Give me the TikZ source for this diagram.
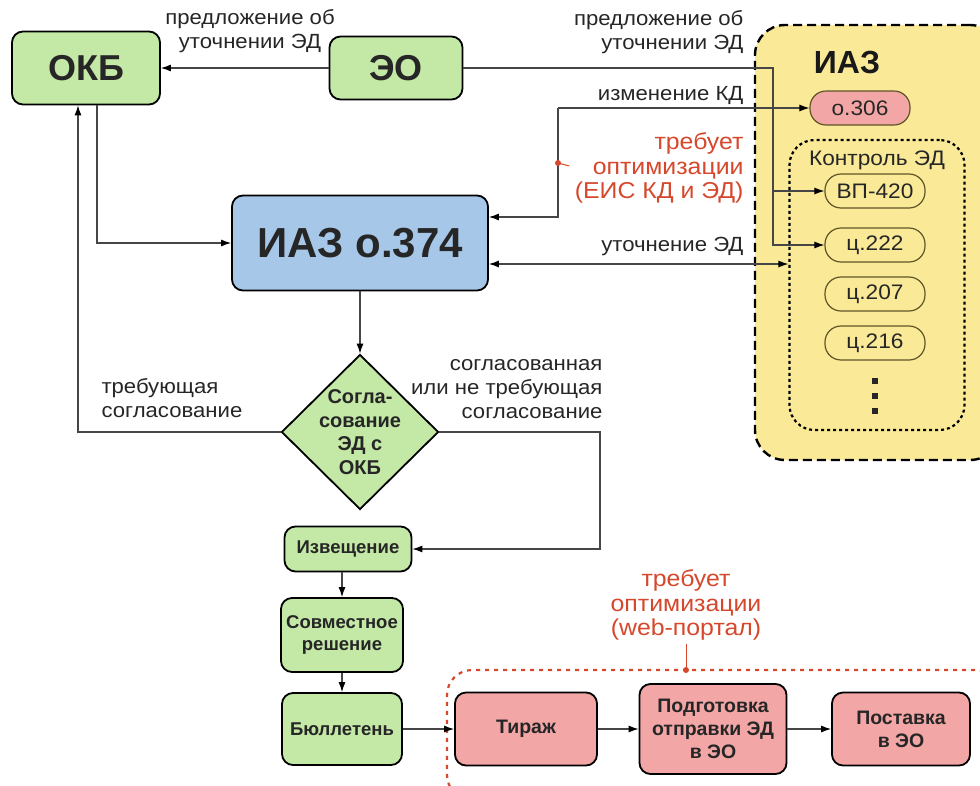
\documentclass[tikz,border=0pt]{standalone}
\usepackage{fontspec}
\setmainfont{Liberation Sans}
\newfontfamily\lblfont{Liberation Sans}[FakeStretch=1.08]
\usepackage{tikz}
\usetikzlibrary{arrows.meta,shapes.geometric,calc,positioning}

\definecolor{boxgreen}{RGB}{196,232,166}
\definecolor{boxblue}{RGB}{166,199,232}
\definecolor{boxpink}{RGB}{242,166,166}
\definecolor{boxyellow}{RGB}{250,234,152}
\definecolor{pillline}{RGB}{95,85,40}
\definecolor{linegray}{RGB}{70,70,70}
\definecolor{optred}{RGB}{214,72,44}

\tikzset{
  base/.style={draw=black, line width=1.8pt, rounded corners=11pt, align=center, inner sep=1pt,
    font=\fontsize{18.5}{22}\selectfont\bfseries, text=black!85},
  greenbox/.style={base, fill=boxgreen},
  pinkbox/.style={base, fill=boxpink, font=\fontsize{19.5}{23}\selectfont\bfseries},
  bluebox/.style={base, fill=boxblue},
  pill/.style={draw=pillline, line width=1.2pt, rounded corners=16pt, minimum width=100pt,
    minimum height=34pt, fill=boxyellow, font=\lblfont\fontsize{21}{24}\selectfont, text=black!85},
  conn/.style={draw=linegray, line width=1.1pt},
  tip/.tip={Latex[length=10pt,width=7pt,color=black]},
  arr/.style={conn, -tip},
  dblarr/.style={conn, tip-tip},
  lbl/.style={font=\lblfont\fontsize{20.5}{24}\selectfont, text=black!85},
  redlbl/.style={font=\lblfont\fontsize{23}{24.5}\selectfont, text=optred},
}

\begin{document}
\begin{tikzpicture}[x=1pt,y=-1pt]
\useasboundingbox (0,0) rectangle (980,785);
\clip (0,0) rectangle (980,785);
\fill[white] (0,0) rectangle (980,785);

\node[draw=black, dash pattern=on 9pt off 5pt, line width=2.4pt, fill=boxyellow, rounded corners=30pt,
  minimum width=245pt, minimum height=435pt] (iazbox) at (877.5,242.5) {};
\node[font=\fontsize{32}{36}\selectfont\bfseries, text=black!90] (iaztitle) at (847,62) {ИАЗ};
\node[pill, fill=boxpink] (o306) at (860,108) {о.306};
\node[draw=black, dash pattern=on 3pt off 3pt, line width=2.2pt, rounded corners=25pt,
  minimum width=175pt, minimum height=290pt] (kontrol) at (877,285) {};
\node[lbl, font=\lblfont\fontsize{21}{24}\selectfont] (kontroltitle) at (877,160) {Контроль ЭД};
\node[pill] (vp420) at (875,191) {ВП-420};
\node[pill] (c222) at (875,245) {ц.222};
\node[pill] (c207) at (875,294) {ц.207};
\node[pill] (c216) at (875,343) {ц.216};
\foreach \y in {378,393,408}
  \fill[black!85] (872,\y) rectangle +(6,6);

\node[draw=optred, dash pattern=on 4pt off 5pt, line width=2.2pt, rounded corners=25pt,
  minimum width=553pt, minimum height=130pt] (webbox) at (723.5,735) {};

\node[greenbox, minimum width=148pt, minimum height=73pt, font=\fontsize{36}{40}\selectfont\bfseries] (okb) at (86,68) {ОКБ};
\node[greenbox, minimum width=133pt, minimum height=63pt, font=\fontsize{36}{40}\selectfont\bfseries] (eo) at (396,68) {ЭО};
\node[bluebox, minimum width=256pt, minimum height=95pt, font=\fontsize{42}{46}\selectfont\bfseries] (iaz374) at (360,243) {ИАЗ о.374};
\node[diamond, draw=black, line width=1.8pt, fill=boxgreen, inner sep=0pt,
  minimum width=157pt, minimum height=155pt] (sogl) at (360,432) {};
\node[align=center, font=\fontsize{20}{23.5}\selectfont\bfseries, text=black!85] (sogltext) at (sogl) {Согла-\\сование\\ЭД с\\ОКБ};
\node[greenbox, minimum width=127pt, minimum height=45pt] (izv) at (348,549) {Извещение};
\node[greenbox, minimum width=122pt, minimum height=74pt] (sovm) at (342,635) {Совместное\\решение};
\node[greenbox, minimum width=120pt, minimum height=72pt] (bull) at (342,729) {Бюллетень};
\node[pinkbox, minimum width=142pt, minimum height=73pt] (tirazh) at (526,729) {Тираж};
\node[pinkbox, minimum width=147pt, minimum height=90pt] (podg) at (713,729) {Подготовка\\отправки ЭД\\в ЭО};
\node[pinkbox, minimum width=138pt, minimum height=73pt] (post) at (901,729) {Поставка\\в ЭО};

\node[lbl, align=center] (lblokb) at (250,31) {предложение об\\уточнении ЭД};
\node[lbl, align=right, anchor=east] (lbleo) at (747,32) {предложение об\\уточнении ЭД};
\node[lbl, anchor=east] (lblkd) at (747,95) {изменение КД};
\node[lbl, anchor=east] (lblutoch) at (747,246) {уточнение ЭД};
\node[lbl, align=left, anchor=west] (lblneed) at (98,398) {требующая\\согласование};
\node[lbl, align=right, anchor=east] (lblok) at (606,389) {согласованная\\или не требующая\\согласование};
\node[redlbl, align=right, anchor=east] (opt1) at (747,168) {требует\\оптимизации\\(ЕИС КД и ЭД)};
\node[redlbl, align=center] (opt2) at (686,605) {требует\\оптимизации\\(web-портал)};

\coordinate (eoturn) at (773,68);
\coordinate (kdturn) at (558,108);
\coordinate (soglturn) at (600,432);
\coordinate (dot1) at (558,163);
\coordinate (dot2) at (686,670);

\draw[arr] (eo.west) -- (okb.east);
\draw[arr] (eo.east) -- (eoturn) -- (eoturn |- c222.west) -- (c222.west);
\draw[arr] (eoturn |- vp420.west) -- (vp420.west);
\draw[arr] (kdturn) -- (o306.west);
\draw[arr] (kdturn) |- ([yshift=26pt]iaz374.east);
\draw[dblarr] ([yshift=-21pt]iaz374.east) -- ([yshift=-21pt]iaz374.east -| kontrol.west);
\draw[arr] ([xshift=11pt]okb.south) |- (iaz374.west);
\draw[arr] (iaz374.south) -- (sogl.north);
\draw[arr] (sogl.west) -| ([xshift=-8pt]okb.south);
\draw[arr] (sogl.east) -- (soglturn) |- (izv.east);
\draw[arr] (sovm.north |- izv.south) -- (sovm.north);
\draw[arr] (sovm.south) -- (bull.north);
\draw[arr] (bull.east) -- (tirazh.west);
\draw[arr] (tirazh.east) -- (podg.west);
\draw[arr] (podg.east) -- (post.west);

\draw[optred, line width=1pt] (dot1) -- ([xshift=-2pt,yshift=2pt]opt1.west);
\fill[optred] (dot1) circle (3pt);
\draw[optred, line width=1pt] (dot2) -- (opt2.south);
\fill[optred] (dot2) circle (3pt);
\end{tikzpicture}
\end{document}
